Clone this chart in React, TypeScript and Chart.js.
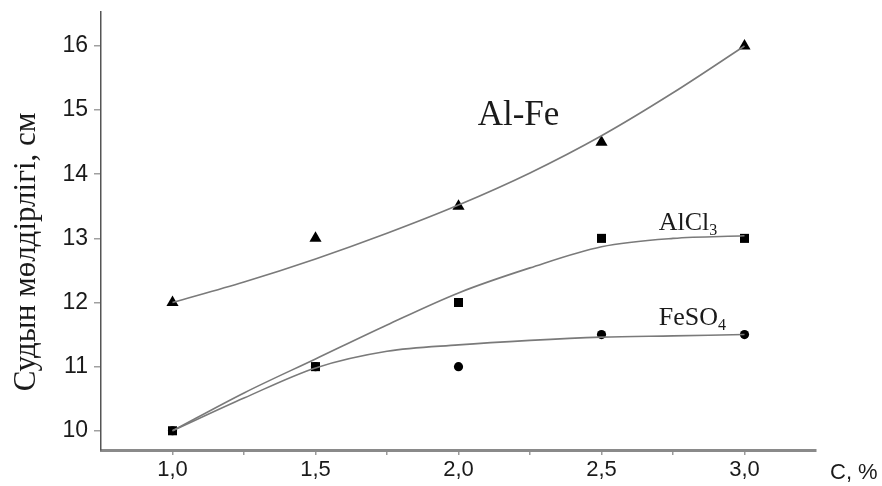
import React, { useEffect, useRef } from 'react';
import Chart from 'chart.js/auto';

// concentration, %
const concentrations = [1.0, 1.5, 2.0, 2.5, 3.0];

// measured points
const alFePoints = [12, 13, 13.5, 14.5, 16];
const alCl3Points = [10, 11, 12, 13, 13];
const feSO4Points = [10, 11, 11, 11.5, 11.5];

// trend curves, every 0.25 %
const trendX = [1.0, 1.25, 1.5, 1.75, 2.0, 2.25, 2.5, 2.75, 3.0];
const alFeTrend = [12, 12.32, 12.68, 13.08, 13.52, 14.02, 14.6, 15.27, 16.0];
const alCl3Trend = [10, 10.59, 11.12, 11.65, 12.15, 12.54, 12.87, 13.0, 13.04];
const feSO4Trend = [10, 10.51, 10.98, 11.24, 11.34, 11.41, 11.46, 11.48, 11.5];

const xTicks = [1.0, 1.25, 1.5, 1.75, 2.0, 2.25, 2.5, 2.75, 3.0];
const xLabelTicks = [1.0, 1.5, 2.0, 2.5, 3.0];
const yTicks = [10, 11, 12, 13, 14, 15, 16];

// series labels: [main, subscript, x, y, font size]
const seriesLabels: [string, string, number, number, number][] = [
  ['Al-Fe', '', 2.067, 14.77, 35],
  ['AlCl', '3', 2.7, 13.13, 26],
  ['FeSO', '4', 2.7, 11.65, 26],
];

const yTitle = 'Судын мөлдірлігі, см';
const xTitle = 'С, %';

const toXY = (xs: number[], vals: number[]) => vals.map((v, i) => ({ x: xs[i], y: v }));

const textPlugin = {
  id: 'texts',
  afterDatasetsDraw(chart: any) {
    const { ctx, scales, chartArea } = chart;
    ctx.save();
    ctx.fillStyle = '#1a1a1a';
    ctx.textBaseline = 'alphabetic';
    ctx.textAlign = 'left';
    seriesLabels.forEach(([main, sub, x, y, size]) => {
      const px = scales.x.getPixelForValue(x);
      const py = scales.y.getPixelForValue(y);
      ctx.font = `${size}px "Liberation Serif", "Times New Roman", serif`;
      ctx.fillText(main, px, py);
      if (sub) {
        const w = ctx.measureText(main).width;
        ctx.font = `${Math.round(size * 0.62)}px "Liberation Serif", "Times New Roman", serif`;
        ctx.fillText(sub, px + w, py + size * 0.18);
      }
    });
    // y title
    ctx.font = '31px "Liberation Serif", "Times New Roman", serif';
    ctx.textAlign = 'center';
    ctx.textBaseline = 'middle';
    ctx.translate(27, 252);
    ctx.rotate(-Math.PI / 2);
    ctx.fillText(yTitle, 0, 0);
    ctx.restore();
    ctx.save();
    ctx.fillStyle = '#1a1a1a';
    ctx.font = '22px "Liberation Sans", Arial, sans-serif';
    ctx.textAlign = 'left';
    ctx.textBaseline = 'alphabetic';
    ctx.fillText(xTitle, chartArea.right + 14, chartArea.bottom + 29);
    ctx.restore();
  },
};

const App: React.FC = () => {
  const chartRef = useRef<HTMLCanvasElement>(null);
  const chartInstance = useRef<Chart | null>(null);

  useEffect(() => {
    if (!chartRef.current) return;
    if (chartInstance.current) chartInstance.current.destroy();

    const trendStyle = {
      showLine: true,
      borderColor: '#7a7a7a',
      borderWidth: 1.6,
      pointRadius: 0,
      cubicInterpolationMode: 'monotone' as const,
      fill: false,
    };
    const pointStyle = {
      showLine: false,
      backgroundColor: '#000',
      borderColor: '#000',
      borderWidth: 0,
    };

    chartInstance.current = new Chart(chartRef.current, {
      type: 'scatter',
      data: {
        datasets: [
          { label: 'Al-Fe fit', data: toXY(trendX, alFeTrend), ...trendStyle },
          { label: 'AlCl3 fit', data: toXY(trendX, alCl3Trend), ...trendStyle },
          { label: 'FeSO4 fit', data: toXY(trendX, feSO4Trend), ...trendStyle },
          { label: 'Al-Fe', data: toXY(concentrations, alFePoints), ...pointStyle, pointStyle: 'triangle', pointRadius: 7 },
          { label: 'AlCl3', data: toXY(concentrations, alCl3Points), ...pointStyle, pointStyle: 'rect', pointRadius: 6.4 },
          { label: 'FeSO4', data: toXY(concentrations, feSO4Points), ...pointStyle, pointStyle: 'circle', pointRadius: 4.6 },
        ],
      },
      options: {
        animation: false,
        responsive: false,
        layout: { padding: { top: 12, right: 66, left: 0, bottom: 0 } },
        plugins: {
          legend: { display: false },
          tooltip: { enabled: false },
        },
        scales: {
          x: {
            type: 'linear',
            min: 0.75,
            max: 3.25,
            afterFit: (s: any) => {
              s.height = 36;
              s.paddingLeft = 0;
              s.paddingRight = 0;
            },
            afterBuildTicks: (s: any) => {
              s.ticks = xTicks.map((v) => ({ value: v }));
            },
            ticks: {
              autoSkip: false,
              maxRotation: 0,
              color: '#1a1a1a',
              padding: 2,
              font: { family: '"Liberation Sans", Arial, sans-serif', size: 22 },
              callback: (v: any) =>
                xLabelTicks.includes(Number(v)) ? Number(v).toFixed(1).replace('.', ',') : '',
            },
            grid: { drawOnChartArea: false, drawTicks: true, tickLength: 5, color: '#9a9a9a', lineWidth: 1.5 },
            border: { display: true, color: '#8a8a8a', width: 3 },
          },
          y: {
            type: 'linear',
            min: 9.7,
            max: 16.53,
            afterFit: (s: any) => {
              s.width = 101;
              s.paddingTop = 0;
              s.paddingBottom = 0;
            },
            afterBuildTicks: (s: any) => {
              s.ticks = yTicks.map((v) => ({ value: v }));
            },
            ticks: {
              color: '#1a1a1a',
              padding: 6,
              font: { family: '"Liberation Sans", Arial, sans-serif', size: 23 },
            },
            grid: { drawOnChartArea: false, drawTicks: true, tickLength: 7, color: '#a0a0a0', lineWidth: 1.5 },
            border: { display: true, color: '#555', width: 1.5 },
          },
        },
      },
      plugins: [textPlugin],
    });

    return () => {
      if (chartInstance.current) {
        chartInstance.current.destroy();
        chartInstance.current = null;
      }
    };
  }, []);

  return (
    <div style={{ position: 'fixed', left: 0, top: 0, width: 882, height: 486, background: '#fff' }}>
      <canvas ref={chartRef} width={882} height={486} />
    </div>
  );
};

export default App;
